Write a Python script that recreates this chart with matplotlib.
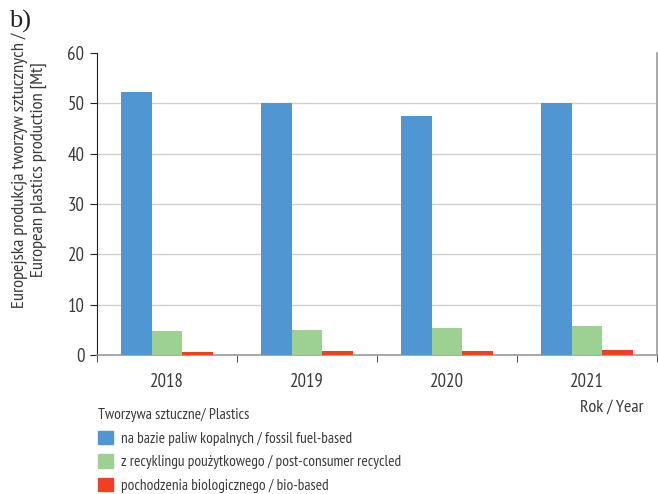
import matplotlib
matplotlib.use("Agg")
import matplotlib.pyplot as plt
import numpy as np
from matplotlib.patches import Patch

years = ["2018", "2019", "2020", "2021"]
fossil = [52.3, 50.0, 47.5, 50.0]
recycled = [4.8, 5.0, 5.4, 5.8]
bio = [0.6, 0.8, 0.8, 1.05]
series_labels = ["na bazie paliw kopalnych / fossil fuel-based",
                 "z recyklingu poużytkowego / post-consumer recycled",
                 "pochodzenia biologicznego / bio-based"]
colors = ["#4F96D3", "#9DD192", "#EE4123"]

plt.rcParams['font.family'] = ['PT Sans Narrow', 'DejaVu Sans']
txt = "#3a3a3a"

fig = plt.figure(figsize=(6.58, 4.94), dpi=100)
ax = fig.add_axes([97/658, 1-355/494, (657-97)/658, (355-53)/494])

x = np.arange(len(years))
w = 0.22
for i, (vals, c, lab) in enumerate(zip([fossil, recycled, bio], colors, series_labels)):
    ax.bar(x + (i-1)*w, vals, w, color=c, label=lab, zorder=3)

ax.set_xlim(-0.5, len(years)-0.5)
ax.set_ylim(0, 60)
ax.set_yticks(range(0, 61, 10))
ax.set_xticks(x)
ax.set_xticklabels(years)
ax.set_xticks(np.arange(-0.5, len(years)), minor=True)
ax.tick_params(axis='x', which='major', length=0, pad=13, labelsize=13.5, colors=txt)
ax.tick_params(axis='x', which='minor', length=5, direction='out', color='#333333')
ax.tick_params(axis='y', length=5, direction='out', labelsize=13.5, colors=txt, color='#222222', pad=4)
for y in range(10, 60, 10):
    ax.axhline(y, color='#d0d0d0', lw=1, zorder=1)
ax.spines['top'].set_visible(False)
ax.spines['left'].set_color('#222222')
ax.spines['bottom'].set_color('#999999')
ax.spines['right'].set_color('#999999')
ax.spines['bottom'].set_linewidth(1.2)
ax.spines['right'].set_linewidth(1.2)

fig.text(29/658, 1-170/494,
         "Europejska produkcja tworzyw sztucznych /\nEuropean plastics production [Mt]",
         fontsize=13.3, color=txt, rotation=90, ha='center', va='center',
         multialignment='center', linespacing=1.2)

fig.text(9/658, 1-21/494, "b)", fontsize=19, family='Liberation Serif', color='#222222', va='center')
fig.text(643/658, 1-408/494, "Rok / Year", fontsize=13, color=txt, ha='right', va='center')

handles = [Patch(color=c) for c in colors]
leg = fig.legend(handles, series_labels, title="Tworzywa sztuczne/ Plastics",
                 loc='upper left', bbox_to_anchor=(92/658, 1-402/494), frameon=False,
                 fontsize=11, title_fontsize=11.2, handlelength=1.0, handleheight=1.0,
                 handletextpad=0.5, labelspacing=0.55, alignment='left', borderaxespad=0)
for t in leg.get_texts():
    t.set_color(txt)
leg.get_title().set_color(txt)

fig.savefig("out.png", dpi=100)
